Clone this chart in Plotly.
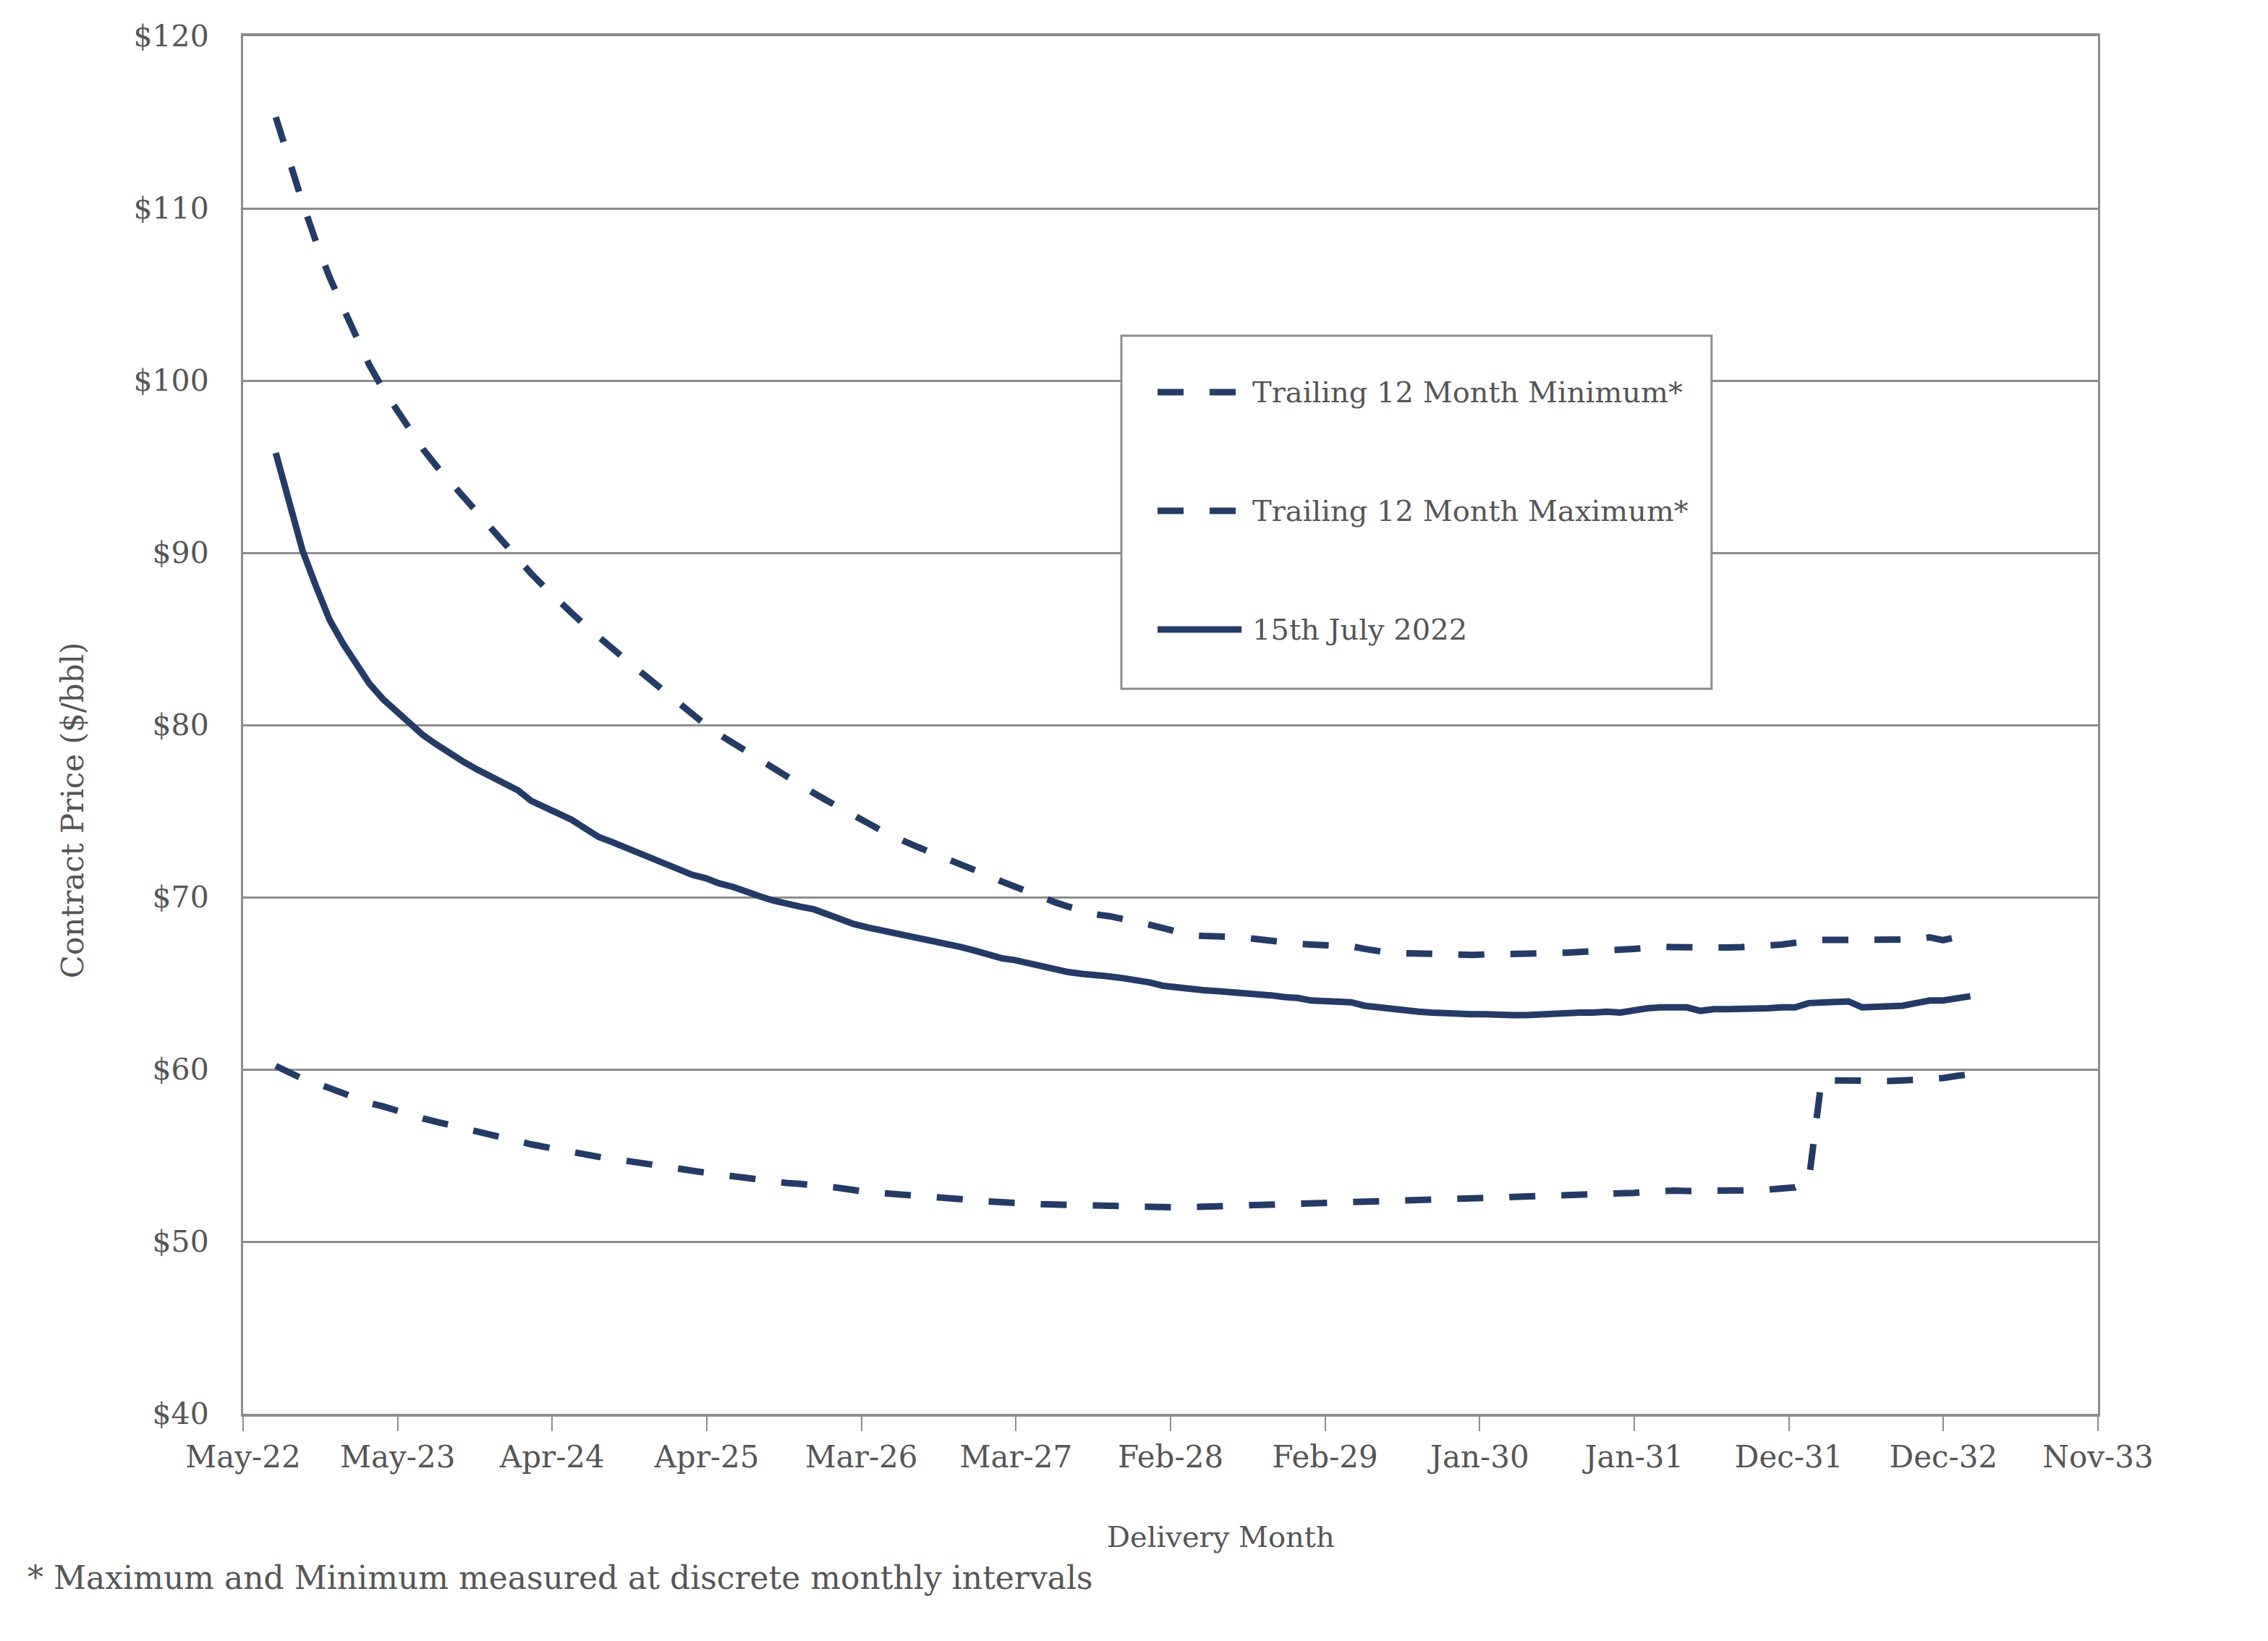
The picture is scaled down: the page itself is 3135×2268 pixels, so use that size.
import pandas as pd
import plotly.graph_objects as go

# ---------------- data ----------------
first_month = "2022-08-01"
n_months = 127  # Aug-22 .. Feb-33

spot_15jul2022 = [
    95.8, 93.0, 90.1, 88.0, 86.1, 84.7, 83.5, 82.4, 81.5, 80.8,
    80.05, 79.4, 78.85, 78.3, 77.85, 77.4, 77.0, 76.6, 76.2, 75.6,
    75.2, 74.8, 74.5, 74.0, 73.5, 73.2, 72.9, 72.6, 72.3, 71.95,
    71.6, 71.3, 71.1, 70.8, 70.6, 70.3, 70.05, 69.8, 69.6, 69.45,
    69.3, 69.0, 68.7, 68.45, 68.25, 68.1, 67.9, 67.7, 67.55, 67.4,
    67.25, 67.1, 66.9, 66.65, 66.45, 66.35, 66.15, 66.0, 65.8, 65.65,
    65.55, 65.5, 65.4, 65.3, 65.2, 65.05, 64.85, 64.75, 64.65, 64.6,
    64.55, 64.5, 64.45, 64.4, 64.3, 64.2, 64.15, 64.0, 63.95, 63.95,
    63.9, 63.7, 63.6, 63.5, 63.4, 63.35, 63.3, 63.25, 63.2, 63.2,
    63.2, 63.15, 63.15, 63.15, 63.2, 63.2, 63.25, 63.3, 63.3, 63.35,
    63.3, 63.45, 63.55, 63.6, 63.6, 63.6, 63.4, 63.5, 63.5, 63.5,
    63.5, 63.55, 63.6, 63.6, 63.85, 63.9, 63.95, 63.95, 63.6, 63.65,
    63.7, 63.7, 63.85, 64.0, 64.0, 64.1, 64.25,
]

trailing_max = [
    115.3, 112.7, 110.3, 108.0, 106.0, 104.2, 102.5, 100.9, 99.5, 98.3,
    97.1, 96.0, 95.0, 94.1, 93.2, 92.3, 91.4, 90.5, 89.65, 88.8,
    88.0, 87.2, 86.5, 85.8, 85.1, 84.45, 83.8, 83.15, 82.5, 81.85,
    81.2, 80.6, 80.0, 79.45, 78.95, 78.45, 77.95, 77.45, 76.95, 76.5,
    76.05, 75.6, 75.15, 74.7, 74.3, 73.9, 73.5, 73.15, 72.8, 72.5,
    72.2, 71.9, 71.6, 71.25, 70.9, 70.6, 70.3, 70.0, 69.7, 69.45,
    69.2, 69.0, 68.9, 68.75, 68.55, 68.4, 68.2, 68.0, 67.8, 67.75,
    67.75, 67.7, 67.65, 67.55, 67.45, 67.4, 67.3, 67.25, 67.2, 67.15,
    67.15, 67.0, 66.85, 66.75, 66.75, 66.72, 66.72, 66.68, 66.65, 66.65,
    66.68, 66.68, 66.68, 66.68, 66.7, 66.75, 66.78, 66.8, 66.82, 66.85,
    66.95, 67.0, 67.08, 67.12, 67.1, 67.08, 67.05, 67.05, 67.08, 67.1,
    67.12, 67.14, 67.25, 67.35, 67.45, 67.52, 67.52, 67.52, 67.5, 67.48,
    67.48, 67.48, 67.55, 67.67, 67.5, 67.69, 67.8,
]

trailing_min = [
    60.2, 59.8, 59.45, 59.2, 58.9, 58.65, 58.35, 58.05, 57.85, 57.6,
    57.4, 57.15, 56.95, 56.75, 56.6, 56.4, 56.2, 56.0, 55.85, 55.65,
    55.5, 55.35, 55.2, 55.0, 54.86, 54.78, 54.7, 54.6, 54.5, 54.38,
    54.25, 54.12, 54.0, 53.9, 53.78, 53.65, 53.55, 53.45, 53.4, 53.35,
    53.3, 53.2, 53.1, 52.95, 52.88, 52.82, 52.77, 52.72, 52.66, 52.6,
    52.53, 52.47, 52.4, 52.33, 52.27, 52.23, 52.2, 52.17, 52.15, 52.13,
    52.11, 52.1, 52.07, 52.03, 51.99, 51.96, 51.97, 51.99, 52.0, 52.02,
    52.04, 52.06, 52.08, 52.1, 52.12, 52.15, 52.18, 52.2, 52.22, 52.25,
    52.28, 52.3, 52.32, 52.35, 52.37, 52.4, 52.42, 52.45, 52.48, 52.5,
    52.53, 52.56, 52.59, 52.61, 52.63, 52.66, 52.69, 52.71, 52.73, 52.75,
    52.77, 52.83, 52.9, 52.96, 52.96, 52.94, 52.93, 52.92, 52.92, 52.95,
    52.98, 53.02, 53.05, 53.15, 53.5, 59.4, 59.36, 59.34, 59.33, 59.32,
    59.33, 59.36, 59.38, 59.4, 59.5, 59.62, 59.72,
]

x_tick_labels = ["May-22", "May-23", "Apr-24", "Apr-25", "Mar-26", "Mar-27",
                 "Feb-28", "Feb-29", "Jan-30", "Jan-31", "Dec-31", "Dec-32", "Nov-33"]
axis_start = "2022-05-19"
tick_step_days = 350
y_ticks = [40, 50, 60, 70, 80, 90, 100, 110, 120]
y_tick_labels = ["$40", "$50", "$60", "$70", "$80", "$90", "$100", "$110", "$120"]

series_names = ["Trailing 12 Month Minimum*", "Trailing 12 Month Maximum*", "15th July 2022"]

# ---------------- figure ----------------
months = pd.date_range(first_month, periods=n_months, freq="MS")
start = pd.Timestamp(axis_start)
tick_vals = [start + pd.Timedelta(days=tick_step_days * k) for k in range(len(x_tick_labels))]
x_end = tick_vals[-1]

NAVY = "#233b66"
GRID = "#8c8c8c"
TEXT = "#555555"
FONT = "DejaVu Serif"
FS = 42

fig = go.Figure()
fig.add_trace(go.Scatter(x=months, y=trailing_min, mode="lines", name=series_names[0],
                         line=dict(color=NAVY, width=9, dash="36px,36px"), showlegend=False))
fig.add_trace(go.Scatter(x=months, y=trailing_max, mode="lines", name=series_names[1],
                         line=dict(color=NAVY, width=9, dash="36px,36px"), showlegend=False))
fig.add_trace(go.Scatter(x=months, y=spot_15jul2022, mode="lines", name=series_names[2],
                         line=dict(color=NAVY, width=9), showlegend=False))

# the page body adds an 8px offset, so the figure is 8px smaller and margins shifted
fig.update_layout(
    width=3127, height=2260,
    margin=dict(l=328, r=235, t=42, b=314, autoexpand=False),
    paper_bgcolor="white", plot_bgcolor="white",
    font=dict(family=FONT, size=FS, color=TEXT),
)
fig.update_xaxes(
    type="date", range=[start, x_end],
    tickmode="array", tickvals=tick_vals, ticktext=x_tick_labels,
    ticks="outside", ticklen=20, tickwidth=2, tickcolor=GRID,
    showgrid=False, showline=True, linecolor=GRID, linewidth=4, mirror=True,
    tickfont=dict(family=FONT, size=FS, color=TEXT), ticklabelstandoff=0,
)
fig.update_yaxes(
    range=[40, 120], tickmode="array", tickvals=y_ticks, ticktext=y_tick_labels,
    ticks="", showgrid=True, gridcolor=GRID, gridwidth=3,
    showline=True, linecolor=GRID, linewidth=3, mirror=True, zeroline=False,
    tickfont=dict(family=FONT, size=41, color=TEXT), ticklabelstandoff=36,
)

# manual legend box
fig.add_shape(type="rect", xref="paper", yref="paper", x0=0.4735, x1=0.7917, y0=0.5263, y1=0.7826,
              line=dict(color=GRID, width=3), fillcolor="white", layer="above")
leg_y = [0.7416, 0.6555, 0.5693]
for name, yy, dash in zip(series_names, leg_y, ["36px,36px", "36px,36px", "solid"]):
    fig.add_shape(type="line", xref="paper", yref="paper", x0=0.4930, x1=0.5383, y0=yy, y1=yy,
                  line=dict(color=NAVY, width=9, dash=dash), layer="above")
    fig.add_annotation(x=0.5431, y=yy, xref="paper", yref="paper", text=name, showarrow=False,
                       xanchor="left", yanchor="middle", font=dict(family=FONT, size=40, color=TEXT))

# axis titles and footnote
fig.add_annotation(x=-0.092, y=0.438, xref="paper", yref="paper", text="Contract Price ($/bbl)",
                   textangle=-90, showarrow=False, xanchor="center", yanchor="middle",
                   font=dict(family=FONT, size=FS, color=TEXT))
fig.add_annotation(x=0.5273, y=-0.0893, xref="paper", yref="paper", text="Delivery Month",
                   showarrow=False, xanchor="center", yanchor="middle",
                   font=dict(family=FONT, size=40, color=TEXT))
fig.add_annotation(x=-0.117, y=-0.1187, xref="paper", yref="paper",
                   text="* Maximum and Minimum measured at discrete monthly intervals",
                   showarrow=False, xanchor="left", yanchor="middle",
                   font=dict(family=FONT, size=44, color=TEXT))

fig.write_html("out.html")
